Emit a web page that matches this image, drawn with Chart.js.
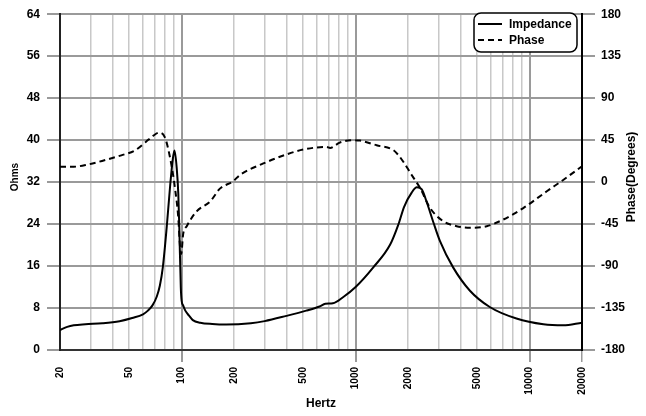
<!DOCTYPE html>
<html>
<head>
<meta charset="utf-8">
<script src="https://cdn.jsdelivr.net/npm/chart.js@4.4.1/dist/chart.umd.min.js"></script>
<style>
  html, body { margin: 0; padding: 0; background: #fff; }
  #wrap { width: 646px; height: 416px; position: relative; }
</style>
</head>
<body>
<div id="wrap"><canvas id="impChart"></canvas></div>
<script>
// impedance curve (Hz / Ohms)
const impFreq = [20, 22, 24, 28, 35, 44, 52, 60, 64, 68, 72, 75, 78, 82, 86, 89, 91, 93.7, 95.7, 97, 98.9, 100, 102, 105, 110, 116, 128, 150, 180, 250, 300, 400, 520, 620, 670, 740, 850, 1000, 1260, 1580, 1760, 1900, 2100, 2250, 2400, 2550, 2800, 3050, 3640, 4540, 5900, 8400, 12000, 15600, 20000];
const impOhms = [3.8, 4.4, 4.7, 4.9, 5.1, 5.5, 6.1, 6.8, 7.5, 8.5, 10.2, 12.3, 15.8, 23.2, 31.5, 36.4, 38.0, 34.7, 29.8, 23.2, 12, 9.4, 8.5, 7.5, 6.6, 5.7, 5.2, 4.95, 4.85, 5.1, 5.5, 6.5, 7.5, 8.3, 8.8, 8.9, 10.1, 12, 15.7, 20.1, 23.9, 27.3, 30.0, 31.0, 30.6, 28.4, 24.3, 20.8, 15.7, 11.3, 8.2, 6.0, 4.9, 4.7, 5.2];

// phase curve (Hz / degrees)
const phaseFreq = [20, 24, 29, 36, 45, 54, 62, 69, 74, 80, 86, 91.6, 95.7, 98, 99.5, 102, 107, 122, 146, 166, 198, 216, 295, 400, 500, 680, 713, 810, 970, 1060, 1320, 1650, 1760, 1880, 2100, 2350, 2680, 3190, 3810, 4540, 5670, 7060, 9200, 12500, 15600, 20000];
const phaseDeg = [16.5, 16.5, 18.9, 23.4, 28.7, 34, 42.8, 50, 53, 48.3, 25.3, -6.6, -38.4, -70.3, -77, -56, -47.3, -31.3, -20.7, -7, 1, 7.6, 20, 29.6, 34.9, 37.7, 36.6, 42.3, 45, 44.5, 39.5, 34.2, 29, 21.8, 7.6, -6.6, -27.8, -42, -47.3, -49, -47.3, -40.1, -27.8, -10.1, 2.3, 17];

// x grid lines and the ones that get a label
const xGrid = [20, 30, 40, 50, 60, 70, 80, 90, 100, 200, 300, 400, 500, 600, 700, 800, 900, 1000, 2000, 3000, 4000, 5000, 6000, 7000, 8000, 9000, 10000, 20000];
const xLabels = [20, 50, 100, 200, 500, 1000, 2000, 5000, 10000, 20000];
const xMajor = [100, 1000, 10000];

const FONT = '"Liberation Sans", Arial, sans-serif';

// titles + legend box drawn by hand
const overlay = {
  id: "overlay",
  afterDraw(chart) {
    const ctx = chart.ctx;
    const area = chart.chartArea;
    ctx.save();
    ctx.fillStyle = "#000";
    ctx.textAlign = "center";
    ctx.textBaseline = "middle";

    ctx.font = "bold 12px " + FONT;
    ctx.fillText("Hertz", (area.left + area.right) / 2, 404);

    ctx.save();
    ctx.translate(15.5, 177);
    ctx.rotate(-Math.PI / 2);
    ctx.font = "bold 10px " + FONT;
    ctx.fillText("Ohms", 0, 0);
    ctx.restore();

    ctx.save();
    ctx.translate(631.5, 177);
    ctx.rotate(-Math.PI / 2);
    ctx.font = "bold 12px " + FONT;
    ctx.fillText("Phase(Degrees)", 0, 0);
    ctx.restore();

    // legend
    const lx = 474, ly = 13, lw = 103, lh = 39;
    ctx.beginPath();
    ctx.roundRect(lx, ly, lw, lh, 7);
    ctx.fillStyle = "#fff";
    ctx.fill();
    ctx.lineWidth = 1.5;
    ctx.strokeStyle = "#000";
    ctx.stroke();

    chart.data.datasets.forEach((ds, i) => {
      const y = 24 + i * 16;
      ctx.beginPath();
      ctx.setLineDash(ds.borderDash || []);
      ctx.lineWidth = 2;
      ctx.moveTo(478, y);
      ctx.lineTo(502, y);
      ctx.stroke();
      ctx.setLineDash([]);
      ctx.font = "bold 12px " + FONT;
      ctx.textAlign = "left";
      ctx.fillStyle = "#000";
      ctx.fillText(ds.label, 509, y + 0.5);
    });
    ctx.restore();
  }
};

const ctx = document.getElementById("impChart").getContext("2d");

new Chart(ctx, {
  type: "line",
  data: {
    datasets: [
      {
        label: "Impedance",
        data: impFreq.map((f, i) => ({ x: f, y: impOhms[i] })),
        yAxisID: "y",
        borderColor: "#000",
        borderWidth: 2,
        pointRadius: 0,
        cubicInterpolationMode: "monotone",
        fill: false
      },
      {
        label: "Phase",
        data: phaseFreq.map((f, i) => ({ x: f, y: phaseDeg[i] })),
        yAxisID: "y2",
        borderColor: "#000",
        borderWidth: 2,
        borderDash: [6, 4],
        pointRadius: 0,
        cubicInterpolationMode: "monotone",
        fill: false
      }
    ]
  },
  options: {
    responsive: true,
    maintainAspectRatio: false,
    animation: false,
    layout: { padding: { top: 11, left: 0, right: 0, bottom: 0 } },
    plugins: {
      legend: { display: false },
      tooltip: { enabled: false }
    },
    scales: {
      x: {
        type: "logarithmic",
        min: 20,
        max: 20000,
        afterBuildTicks: (scale) => {
          scale.ticks = xGrid.map(v => ({ value: v }));
        },
        afterFit: (scale) => { scale.height = 66; },
        ticks: {
          autoSkip: false,
          minRotation: 90,
          maxRotation: 90,
          padding: 5,
          color: "#000",
          font: { family: FONT, size: 10, weight: "bold" },
          callback: (v) => (xLabels.includes(v) ? String(v) : "")
        },
        grid: {
          color: (c) => (c.tick && xMajor.includes(c.tick.value) ? "#9a9a9a" : "#c8c8c8"),
          lineWidth: (c) => (c.tick && xMajor.includes(c.tick.value) ? 2 : 1.5),
          tickColor: (c) => (c.tick && (xMajor.includes(c.tick.value) || c.tick.value === 20000) ? "#9a9a9a" : "rgba(0,0,0,0)"),
          tickLength: 12
        },
        border: { color: "#333", width: 2 }
      },
      y: {
        position: "left",
        min: 0,
        max: 64,
        afterFit: (scale) => { scale.width = 60; },
        ticks: {
          stepSize: 8,
          padding: 7,
          color: "#000",
          font: { family: FONT, size: 12, weight: "bold" }
        },
        grid: { color: "#9a9a9a", lineWidth: 2, tickLength: 13 },
        border: { color: "#222", width: 2 }
      },
      y2: {
        position: "right",
        min: -180,
        max: 180,
        afterFit: (scale) => { scale.width = 64; },
        ticks: {
          stepSize: 45,
          padding: 6,
          color: "#000",
          font: { family: FONT, size: 12, weight: "bold" }
        },
        grid: { drawOnChartArea: false, color: "#9a9a9a", lineWidth: 2, tickLength: 13 },
        border: { color: "#000", width: 2 }
      }
    }
  },
  plugins: [overlay]
});
</script>
</body>
</html>
